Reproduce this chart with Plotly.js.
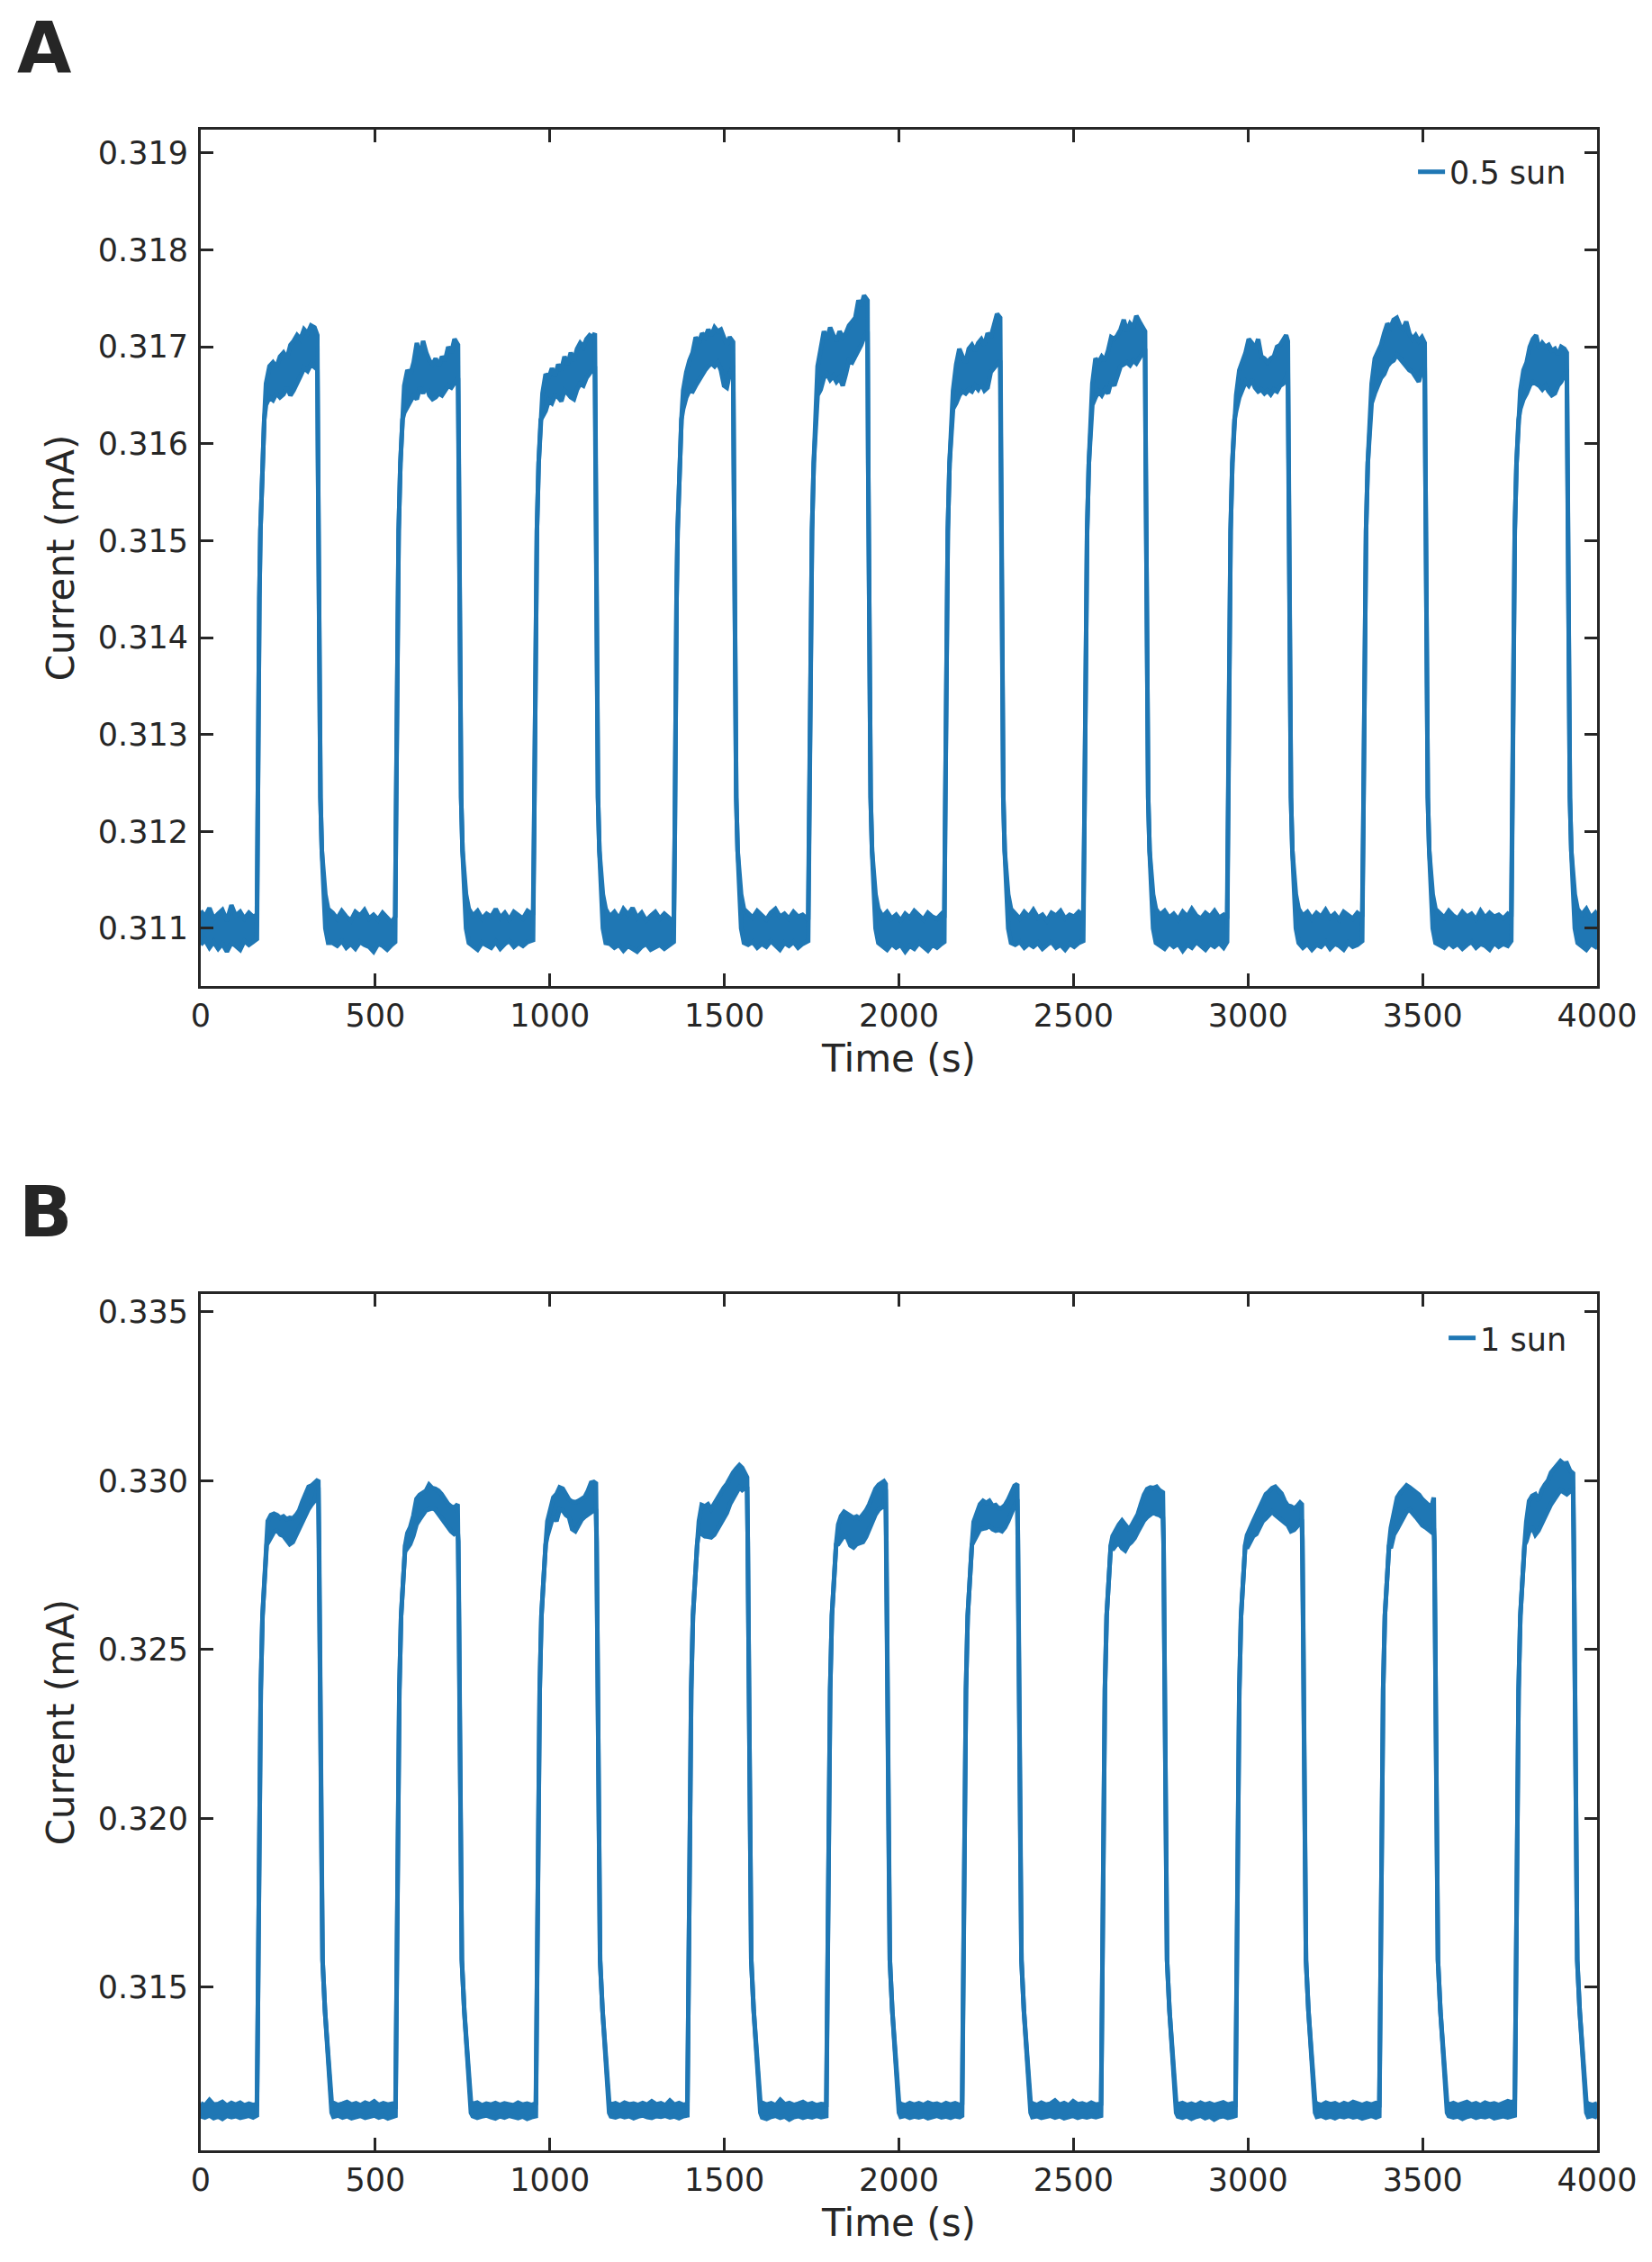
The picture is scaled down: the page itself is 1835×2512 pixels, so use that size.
<!DOCTYPE html>
<html>
<head>
<meta charset="utf-8">
<script src="https://cdn.plot.ly/plotly-3.0.1.min.js"></script>
<style>html,body{margin:0;padding:0;background:#fff}</style>
</head>
<body>
<div id="fig" style="width:1835px;height:2512px"></div>
<script>
// Photocurrent under chopped light. The noisy trace is kept as its upper and
// lower edge and the band between them is filled.

// ---------- panel A : 0.5 sun ----------
const timeA = [
  0, 12, 25, 37, 50, 62, 75, 88, 100, 113, 125, 138, 150, 161,
  163, 165, 168, 171, 176, 182,
  187, 197, 207, 217, 227, 237, 247, 257, 266, 276, 286, 296, 306, 316, 326, 334,
  336, 338, 340, 343, 347, 351, 357, 365,
  378, 391, 404, 417, 430, 443, 456, 469, 482, 495, 508, 521, 534, 547, 557,
  559, 561, 564, 567, 572, 578,
  583, 592, 601, 610, 619, 628, 637, 646, 655, 664, 673, 682, 691, 700, 709, 718, 727, 737,
  739, 741, 743, 746, 750, 754, 760, 768,
  780, 793, 806, 819, 832, 845, 858, 871, 884, 897, 910, 923, 936, 952,
  955, 957, 960, 963, 968, 974,
  979, 988, 997, 1006, 1015, 1024, 1033, 1042, 1051, 1060, 1069, 1078, 1087, 1096, 1105, 1114, 1122, 1129,
  1131, 1133, 1135, 1138, 1142, 1146, 1152, 1160,
  1172, 1185, 1198, 1211, 1224, 1237, 1250, 1263, 1276, 1289, 1302, 1315, 1328, 1341, 1355,
  1358, 1360, 1363, 1366, 1371, 1377,
  1382, 1391, 1400, 1409, 1418, 1427, 1436, 1445, 1454, 1463, 1472, 1481, 1490, 1499, 1507, 1515, 1525,
  1527, 1529, 1531, 1534, 1538, 1542, 1548, 1556,
  1568, 1581, 1594, 1607, 1620, 1633, 1646, 1659, 1672, 1685, 1698, 1711, 1724, 1740,
  1743, 1745, 1748, 1751, 1756, 1762,
  1767, 1776, 1785, 1794, 1803, 1812, 1821, 1830, 1839, 1848, 1857, 1866, 1875, 1884, 1892, 1900, 1910,
  1912, 1914, 1916, 1919, 1923, 1927, 1933, 1941,
  1953, 1966, 1979, 1992, 2005, 2018, 2031, 2044, 2057, 2070, 2083, 2096, 2109, 2122, 2130,
  2132, 2134, 2137, 2140, 2145, 2151,
  2155, 2164, 2173, 2182, 2191, 2200, 2209, 2218, 2227, 2236, 2245, 2254, 2263, 2272, 2281, 2290,
  2292, 2294, 2296, 2299, 2303, 2307, 2313, 2321,
  2333, 2346, 2359, 2372, 2385, 2398, 2411, 2424, 2437, 2450, 2463, 2476, 2489, 2502, 2515, 2528,
  2531, 2533, 2536, 2539, 2544, 2550,
  2554, 2563, 2572, 2581, 2590, 2599, 2608, 2617, 2626, 2635, 2644, 2653, 2662, 2671, 2680, 2689, 2698, 2705,
  2707, 2709, 2711, 2714, 2718, 2722, 2728, 2736,
  2748, 2761, 2774, 2787, 2800, 2813, 2826, 2839, 2852, 2865, 2878, 2891, 2904, 2917, 2930, 2940,
  2942, 2944, 2947, 2950, 2955, 2961,
  2966, 2975, 2984, 2993, 3002, 3011, 3020, 3029, 3038, 3047, 3056, 3065, 3074, 3083, 3092, 3101, 3109, 3114,
  3116, 3118, 3120, 3123, 3127, 3131, 3137, 3145,
  3157, 3170, 3183, 3196, 3209, 3222, 3235, 3248, 3261, 3274, 3287, 3300, 3313, 3327,
  3330, 3332, 3335, 3338, 3343, 3349,
  3354, 3363, 3372, 3381, 3390, 3399, 3408, 3417, 3426, 3435, 3444, 3453, 3462, 3471, 3480, 3489, 3498, 3506,
  3508, 3510, 3512, 3515, 3519, 3523, 3529, 3537,
  3549, 3562, 3575, 3588, 3601, 3614, 3627, 3640, 3653, 3666, 3679, 3692, 3705, 3718, 3731, 3744, 3754,
  3756, 3758, 3761, 3764, 3769, 3775,
  3780, 3789, 3798, 3807, 3816, 3825, 3834, 3843, 3852, 3861, 3870, 3879, 3888, 3897, 3906, 3913,
  3915, 3917, 3919, 3922, 3926, 3930, 3936, 3944,
  3956, 3969, 3982, 3995, 4000
];
const upperA = [
  0.31118, 0.31112, 0.31121, 0.31110, 0.31115, 0.31119, 0.31108, 0.31124, 0.31113, 0.31117, 0.31110, 0.31116, 0.31112, 0.31114,
  0.31200, 0.31330, 0.31440, 0.31510, 0.31580, 0.31625,
  0.31662, 0.31680, 0.31684, 0.31679, 0.31690, 0.31694, 0.31688, 0.31702, 0.31706, 0.31712, 0.31708, 0.31718, 0.31714, 0.31722, 0.31720, 0.31712,
  0.31580, 0.31410, 0.31320, 0.31235, 0.31180, 0.31155, 0.31135, 0.31120,
  0.31116, 0.31110, 0.31118, 0.31112, 0.31108, 0.31117, 0.31113, 0.31119, 0.31110, 0.31114, 0.31109, 0.31116, 0.31111, 0.31106, 0.31112,
  0.31200, 0.31330, 0.31440, 0.31510, 0.31580, 0.31625,
  0.31660, 0.31676, 0.31672, 0.31684, 0.31704, 0.31690, 0.31706, 0.31694, 0.31686, 0.31682, 0.31688, 0.31680, 0.31690, 0.31686, 0.31700, 0.31694, 0.31708, 0.31702,
  0.31580, 0.31410, 0.31320, 0.31235, 0.31180, 0.31155, 0.31135, 0.31120,
  0.31113, 0.31118, 0.31110, 0.31115, 0.31112, 0.31120, 0.31111, 0.31116, 0.31109, 0.31117, 0.31113, 0.31110, 0.31118, 0.31114,
  0.31200, 0.31330, 0.31440, 0.31510, 0.31580, 0.31625,
  0.31652, 0.31672, 0.31668, 0.31678, 0.31670, 0.31682, 0.31676, 0.31690, 0.31682, 0.31694, 0.31686, 0.31698, 0.31704, 0.31700, 0.31708, 0.31712, 0.31710, 0.31714,
  0.31580, 0.31410, 0.31320, 0.31235, 0.31180, 0.31155, 0.31135, 0.31120,
  0.31112, 0.31117, 0.31110, 0.31120, 0.31114, 0.31121, 0.31111, 0.31116, 0.31108, 0.31113, 0.31117, 0.31110, 0.31115, 0.31111, 0.31106,
  0.31200, 0.31330, 0.31440, 0.31510, 0.31580, 0.31625,
  0.31655, 0.31674, 0.31686, 0.31694, 0.31710, 0.31704, 0.31714, 0.31710, 0.31718, 0.31712, 0.31720, 0.31716, 0.31718, 0.31708, 0.31702, 0.31710, 0.31705,
  0.31580, 0.31410, 0.31320, 0.31235, 0.31180, 0.31155, 0.31135, 0.31120,
  0.31116, 0.31111, 0.31118, 0.31113, 0.31109, 0.31116, 0.31120, 0.31112, 0.31115, 0.31110, 0.31117, 0.31112, 0.31114, 0.31109,
  0.31200, 0.31330, 0.31440, 0.31510, 0.31580, 0.31625,
  0.31680, 0.31698, 0.31716, 0.31708, 0.31720, 0.31712, 0.31706, 0.31716, 0.31710, 0.31714, 0.31722, 0.31726, 0.31730, 0.31748, 0.31742, 0.31753, 0.31748,
  0.31580, 0.31410, 0.31320, 0.31235, 0.31180, 0.31155, 0.31135, 0.31120,
  0.31112, 0.31117, 0.31110, 0.31114, 0.31108, 0.31115, 0.31111, 0.31118, 0.31113, 0.31109, 0.31116, 0.31112, 0.31110, 0.31115, 0.31111,
  0.31200, 0.31330, 0.31440, 0.31510, 0.31580, 0.31625,
  0.31655, 0.31682, 0.31698, 0.31690, 0.31684, 0.31698, 0.31702, 0.31696, 0.31704, 0.31708, 0.31702, 0.31714, 0.31710, 0.31722, 0.31734, 0.31730,
  0.31580, 0.31410, 0.31320, 0.31235, 0.31180, 0.31155, 0.31135, 0.31120,
  0.31115, 0.31110, 0.31117, 0.31112, 0.31119, 0.31111, 0.31114, 0.31108, 0.31116, 0.31113, 0.31118, 0.31110, 0.31114, 0.31112, 0.31117, 0.31113,
  0.31200, 0.31330, 0.31440, 0.31510, 0.31580, 0.31625,
  0.31662, 0.31688, 0.31684, 0.31690, 0.31686, 0.31696, 0.31710, 0.31708, 0.31712, 0.31718, 0.31728, 0.31716, 0.31724, 0.31720, 0.31732, 0.31726, 0.31720, 0.31716,
  0.31580, 0.31410, 0.31320, 0.31235, 0.31180, 0.31155, 0.31135, 0.31120,
  0.31114, 0.31118, 0.31111, 0.31115, 0.31109, 0.31117, 0.31112, 0.31120, 0.31113, 0.31110, 0.31116, 0.31112, 0.31118, 0.31111, 0.31114, 0.31110,
  0.31200, 0.31330, 0.31440, 0.31510, 0.31580, 0.31625,
  0.31650, 0.31676, 0.31686, 0.31694, 0.31708, 0.31704, 0.31698, 0.31708, 0.31690, 0.31688, 0.31684, 0.31688, 0.31690, 0.31700, 0.31702, 0.31708, 0.31712, 0.31706,
  0.31580, 0.31410, 0.31320, 0.31235, 0.31180, 0.31155, 0.31135, 0.31120,
  0.31113, 0.31117, 0.31110, 0.31116, 0.31112, 0.31119, 0.31111, 0.31115, 0.31109, 0.31117, 0.31113, 0.31110, 0.31116, 0.31112,
  0.31200, 0.31330, 0.31440, 0.31510, 0.31580, 0.31625,
  0.31662, 0.31688, 0.31696, 0.31702, 0.31714, 0.31724, 0.31720, 0.31728, 0.31730, 0.31722, 0.31718, 0.31726, 0.31714, 0.31708, 0.31712, 0.31706, 0.31710, 0.31704,
  0.31580, 0.31410, 0.31320, 0.31235, 0.31180, 0.31155, 0.31135, 0.31120,
  0.31116, 0.31111, 0.31118, 0.31113, 0.31110, 0.31117, 0.31112, 0.31115, 0.31109, 0.31118, 0.31111, 0.31116, 0.31112, 0.31114, 0.31110, 0.31115, 0.31112,
  0.31200, 0.31330, 0.31440, 0.31510, 0.31580, 0.31625,
  0.31655, 0.31676, 0.31684, 0.31700, 0.31708, 0.31712, 0.31698, 0.31704, 0.31700, 0.31702, 0.31696, 0.31698, 0.31692, 0.31700, 0.31698, 0.31694,
  0.31580, 0.31410, 0.31320, 0.31235, 0.31180, 0.31155, 0.31135, 0.31120,
  0.31114, 0.31120, 0.31111, 0.31116, 0.31113
];
const lowerA = [
  0.31083, 0.31088, 0.31080, 0.31086, 0.31079, 0.31084, 0.31076, 0.31085, 0.31082, 0.31078, 0.31087, 0.31083, 0.31086, 0.31089,
  0.31200, 0.31330, 0.31440, 0.31510, 0.31580, 0.31625,
  0.31640, 0.31648, 0.31645, 0.31652, 0.31648, 0.31651, 0.31658, 0.31650, 0.31655, 0.31664, 0.31670, 0.31678, 0.31675, 0.31682, 0.31679, 0.31685,
  0.31580, 0.31410, 0.31320, 0.31235, 0.31180, 0.31135, 0.31100, 0.31085,
  0.31085, 0.31082, 0.31087, 0.31080, 0.31084, 0.31079, 0.31086, 0.31083, 0.31081, 0.31076, 0.31084, 0.31082, 0.31078, 0.31083, 0.31086,
  0.31200, 0.31330, 0.31440, 0.31510, 0.31580, 0.31625,
  0.31632, 0.31638, 0.31644, 0.31650, 0.31646, 0.31658, 0.31652, 0.31660, 0.31650, 0.31646, 0.31648, 0.31652, 0.31650, 0.31656, 0.31660, 0.31658, 0.31662, 0.31668,
  0.31580, 0.31410, 0.31320, 0.31235, 0.31180, 0.31135, 0.31100, 0.31085,
  0.31082, 0.31078, 0.31085, 0.31083, 0.31080, 0.31086, 0.31079, 0.31084, 0.31087, 0.31081, 0.31085, 0.31082, 0.31086, 0.31088,
  0.31200, 0.31330, 0.31440, 0.31510, 0.31580, 0.31625,
  0.31628, 0.31634, 0.31645, 0.31642, 0.31650, 0.31648, 0.31644, 0.31655, 0.31652, 0.31648, 0.31646, 0.31656, 0.31662, 0.31660, 0.31668, 0.31672, 0.31676, 0.31680,
  0.31580, 0.31410, 0.31320, 0.31235, 0.31180, 0.31135, 0.31100, 0.31085,
  0.31084, 0.31080, 0.31083, 0.31077, 0.31082, 0.31079, 0.31076, 0.31081, 0.31084, 0.31078, 0.31080, 0.31083, 0.31079, 0.31082, 0.31086,
  0.31200, 0.31330, 0.31440, 0.31510, 0.31580, 0.31625,
  0.31636, 0.31648, 0.31655, 0.31654, 0.31660, 0.31666, 0.31672, 0.31676, 0.31680, 0.31683, 0.31680, 0.31684, 0.31676, 0.31660, 0.31658, 0.31672, 0.31680,
  0.31580, 0.31410, 0.31320, 0.31235, 0.31180, 0.31135, 0.31100, 0.31085,
  0.31083, 0.31086, 0.31080, 0.31084, 0.31081, 0.31087, 0.31083, 0.31078, 0.31085, 0.31082, 0.31086, 0.31080, 0.31084, 0.31087,
  0.31200, 0.31330, 0.31440, 0.31510, 0.31580, 0.31625,
  0.31650, 0.31656, 0.31668, 0.31672, 0.31666, 0.31670, 0.31664, 0.31668, 0.31660, 0.31672, 0.31686, 0.31684, 0.31690, 0.31698, 0.31702, 0.31710, 0.31716,
  0.31580, 0.31410, 0.31320, 0.31235, 0.31180, 0.31135, 0.31100, 0.31085,
  0.31081, 0.31078, 0.31084, 0.31080, 0.31083, 0.31076, 0.31082, 0.31079, 0.31085, 0.31081, 0.31077, 0.31083, 0.31080, 0.31084, 0.31086,
  0.31200, 0.31330, 0.31440, 0.31510, 0.31580, 0.31625,
  0.31636, 0.31642, 0.31650, 0.31654, 0.31652, 0.31656, 0.31654, 0.31660, 0.31656, 0.31662, 0.31655, 0.31658, 0.31674, 0.31678, 0.31682, 0.31686,
  0.31580, 0.31410, 0.31320, 0.31235, 0.31180, 0.31135, 0.31100, 0.31085,
  0.31083, 0.31086, 0.31080, 0.31084, 0.31081, 0.31085, 0.31079, 0.31083, 0.31086, 0.31080, 0.31083, 0.31078, 0.31084, 0.31081, 0.31085, 0.31087,
  0.31200, 0.31330, 0.31440, 0.31510, 0.31580, 0.31625,
  0.31640, 0.31648, 0.31654, 0.31650, 0.31656, 0.31652, 0.31664, 0.31660, 0.31670, 0.31680, 0.31682, 0.31684, 0.31681, 0.31686, 0.31683, 0.31688, 0.31694, 0.31698,
  0.31580, 0.31410, 0.31320, 0.31235, 0.31180, 0.31135, 0.31100, 0.31085,
  0.31082, 0.31079, 0.31085, 0.31081, 0.31084, 0.31077, 0.31083, 0.31080, 0.31086, 0.31082, 0.31078, 0.31084, 0.31081, 0.31085, 0.31080, 0.31086,
  0.31200, 0.31330, 0.31440, 0.31510, 0.31580, 0.31625,
  0.31634, 0.31648, 0.31656, 0.31664, 0.31660, 0.31666, 0.31658, 0.31654, 0.31656, 0.31652, 0.31655, 0.31651, 0.31656, 0.31654, 0.31660, 0.31662, 0.31668, 0.31674,
  0.31580, 0.31410, 0.31320, 0.31235, 0.31180, 0.31135, 0.31100, 0.31085,
  0.31080, 0.31084, 0.31078, 0.31083, 0.31081, 0.31086, 0.31079, 0.31084, 0.31082, 0.31078, 0.31085, 0.31081, 0.31083, 0.31087,
  0.31200, 0.31330, 0.31440, 0.31510, 0.31580, 0.31625,
  0.31642, 0.31652, 0.31660, 0.31668, 0.31672, 0.31680, 0.31684, 0.31686, 0.31692, 0.31688, 0.31684, 0.31680, 0.31676, 0.31674, 0.31668, 0.31664, 0.31676, 0.31682,
  0.31580, 0.31410, 0.31320, 0.31235, 0.31180, 0.31135, 0.31100, 0.31085,
  0.31083, 0.31080, 0.31085, 0.31081, 0.31084, 0.31079, 0.31083, 0.31086, 0.31080, 0.31084, 0.31082, 0.31078, 0.31085, 0.31081, 0.31084, 0.31082, 0.31087,
  0.31200, 0.31330, 0.31440, 0.31510, 0.31580, 0.31625,
  0.31636, 0.31646, 0.31652, 0.31660, 0.31664, 0.31662, 0.31660, 0.31656, 0.31660, 0.31654, 0.31650, 0.31652, 0.31660, 0.31664, 0.31672, 0.31676,
  0.31580, 0.31410, 0.31320, 0.31235, 0.31180, 0.31135, 0.31100, 0.31085,
  0.31082, 0.31078, 0.31084, 0.31081, 0.31085
];

// ---------- panel B : 1 sun ----------
const timeB = [
  0, 12, 25, 37, 50, 62, 75, 88, 100, 113, 125, 138, 150, 161,
  163, 165, 168, 172, 177, 183, 189,
  192, 201, 210, 219, 228, 237, 246, 255, 264, 273, 282, 291, 300, 309, 318, 326, 333, 337,
  339, 341, 343, 346, 349, 356, 363, 368, 372, 375,
  380, 393, 406, 419, 432, 445, 458, 471, 484, 497, 510, 523, 536, 549, 558,
  560, 562, 565, 569, 574, 580, 586,
  592, 600, 609, 618, 627, 636, 645, 654, 663, 672, 681, 690, 699, 708, 717, 726, 736,
  738, 740, 742, 745, 748, 755, 762, 767, 771, 774,
  779, 792, 805, 818, 831, 844, 857, 870, 883, 896, 909, 922, 935, 948, 960,
  962, 964, 967, 971, 976, 982, 988,
  993, 1001, 1010, 1019, 1028, 1037, 1046, 1055, 1064, 1073, 1082, 1091, 1100, 1109, 1118, 1126, 1132,
  1134, 1136, 1138, 1141, 1144, 1151, 1158, 1163, 1167, 1170,
  1175, 1188, 1201, 1214, 1227, 1240, 1253, 1266, 1279, 1292, 1305, 1318, 1331, 1344, 1357, 1370, 1383, 1394,
  1396, 1398, 1401, 1405, 1410, 1416, 1422,
  1427, 1435, 1444, 1453, 1462, 1471, 1480, 1489, 1498, 1507, 1516, 1525, 1534, 1543, 1551, 1559, 1565,
  1567, 1569, 1571, 1574, 1577, 1584, 1591, 1596, 1600, 1603,
  1608, 1621, 1634, 1647, 1660, 1673, 1686, 1699, 1712, 1725, 1738, 1751, 1764, 1777, 1792,
  1794, 1796, 1799, 1803, 1808, 1814, 1820,
  1826, 1834, 1843, 1852, 1861, 1870, 1879, 1888, 1897, 1906, 1915, 1924, 1933, 1942, 1950, 1957, 1962,
  1964, 1966, 1968, 1971, 1974, 1981, 1988, 1993, 1997, 2000,
  2005, 2018, 2031, 2044, 2057, 2070, 2083, 2096, 2109, 2122, 2135, 2148, 2161, 2174, 2181,
  2183, 2185, 2188, 2192, 2197, 2203, 2209,
  2214, 2223, 2232, 2241, 2250, 2259, 2268, 2277, 2286, 2295, 2304, 2313, 2322, 2331, 2339,
  2341, 2343, 2345, 2348, 2351, 2358, 2365, 2370, 2374, 2377,
  2382, 2395, 2408, 2421, 2434, 2447, 2460, 2473, 2486, 2499, 2512, 2525, 2538, 2551, 2564, 2579,
  2581, 2583, 2586, 2590, 2595, 2601, 2607,
  2612, 2621, 2630, 2639, 2648, 2657, 2666, 2675, 2684, 2693, 2702, 2711, 2720, 2729, 2738, 2746, 2756,
  2758, 2760, 2762, 2765, 2768, 2775, 2782, 2787, 2791, 2794,
  2799, 2812, 2825, 2838, 2851, 2864, 2877, 2890, 2903, 2916, 2929, 2942, 2955, 2964,
  2966, 2968, 2971, 2975, 2980, 2986, 2992,
  2997, 3006, 3015, 3024, 3033, 3042, 3051, 3060, 3069, 3078, 3087, 3096, 3105, 3114, 3123, 3132, 3141, 3149, 3154,
  3156, 3158, 3160, 3163, 3166, 3173, 3180, 3185, 3189, 3192,
  3197, 3210, 3223, 3236, 3249, 3262, 3275, 3288, 3301, 3314, 3327, 3340, 3353, 3366, 3376,
  3378, 3380, 3383, 3387, 3392, 3398, 3404,
  3409, 3418, 3427, 3436, 3445, 3454, 3463, 3472, 3481, 3490, 3499, 3508, 3517, 3525, 3532,
  3534, 3536, 3538, 3541, 3544, 3551, 3558, 3563, 3567, 3570,
  3575, 3588, 3601, 3614, 3627, 3640, 3653, 3666, 3679, 3692, 3705, 3718, 3731, 3744, 3757, 3764,
  3766, 3768, 3771, 3775, 3780, 3786, 3792,
  3797, 3805, 3814, 3823, 3832, 3841, 3850, 3859, 3868, 3877, 3886, 3895, 3904, 3913, 3922, 3931,
  3933, 3935, 3937, 3940, 3943, 3950, 3957, 3962, 3966, 3969,
  3974, 3987, 4000
];
const upperB = [
  0.31156, 0.31150, 0.31166, 0.31152, 0.31154, 0.31160, 0.31149, 0.31157, 0.31152, 0.31158, 0.31150, 0.31155, 0.31151, 0.31154,
  0.3135, 0.3165, 0.3205, 0.3238, 0.3260, 0.3273, 0.3281,
  0.32880, 0.32898, 0.32902, 0.32898, 0.32890, 0.32894, 0.32886, 0.32890, 0.32888, 0.32898, 0.32912, 0.32938, 0.32960, 0.32982, 0.32986, 0.32996, 0.33000, 0.32998,
  0.3282, 0.3255, 0.3228, 0.3190, 0.3158, 0.3143, 0.3132, 0.3125, 0.31190, 0.31160,
  0.31157, 0.31151, 0.31155, 0.31160, 0.31152, 0.31156, 0.31150, 0.31158, 0.31153, 0.31162, 0.31151, 0.31156, 0.31152, 0.31155, 0.31150,
  0.3135, 0.3165, 0.3205, 0.3238, 0.3260, 0.3273, 0.3281,
  0.32845, 0.32862, 0.32896, 0.32946, 0.32958, 0.32964, 0.32970, 0.32988, 0.32978, 0.32976, 0.32970, 0.32960, 0.32944, 0.32932, 0.32924, 0.32920, 0.32930,
  0.3282, 0.3255, 0.3228, 0.3190, 0.3158, 0.3143, 0.3132, 0.3125, 0.31190, 0.31160,
  0.31154, 0.31158, 0.31150, 0.31155, 0.31152, 0.31157, 0.31151, 0.31156, 0.31153, 0.31150, 0.31158, 0.31152, 0.31155, 0.31151, 0.31156,
  0.3135, 0.3165, 0.3205, 0.3238, 0.3260, 0.3273, 0.3281,
  0.32880, 0.32918, 0.32950, 0.32960, 0.32980, 0.32976, 0.32960, 0.32944, 0.32938, 0.32936, 0.32940, 0.32946, 0.32952, 0.32970, 0.32994, 0.32996, 0.32992,
  0.3282, 0.3255, 0.3228, 0.3190, 0.3158, 0.3143, 0.3132, 0.3125, 0.31190, 0.31160,
  0.31152, 0.31156, 0.31150, 0.31158, 0.31153, 0.31155, 0.31151, 0.31157, 0.31152, 0.31162, 0.31153, 0.31156, 0.31150, 0.31164, 0.31152, 0.31157, 0.31151, 0.31155,
  0.3135, 0.3165, 0.3205, 0.3238, 0.3260, 0.3273, 0.3281,
  0.32880, 0.32928, 0.32924, 0.32930, 0.32916, 0.32932, 0.32950, 0.32964, 0.32978, 0.32990, 0.33010, 0.33024, 0.33036, 0.33046, 0.33038, 0.33020, 0.33010,
  0.3282, 0.3255, 0.3228, 0.3190, 0.3158, 0.3143, 0.3132, 0.3125, 0.31190, 0.31160,
  0.31158, 0.31152, 0.31156, 0.31150, 0.31166, 0.31153, 0.31157, 0.31151, 0.31155, 0.31160, 0.31152, 0.31156, 0.31150, 0.31154, 0.31152,
  0.3135, 0.3165, 0.3205, 0.3238, 0.3260, 0.3273, 0.3281,
  0.32870, 0.32895, 0.32908, 0.32900, 0.32896, 0.32890, 0.32894, 0.32888, 0.32900, 0.32912, 0.32930, 0.32958, 0.32976, 0.32988, 0.32994, 0.32998, 0.32990,
  0.3282, 0.3255, 0.3228, 0.3190, 0.3158, 0.3143, 0.3132, 0.3125, 0.31190, 0.31160,
  0.31154, 0.31150, 0.31157, 0.31152, 0.31156, 0.31151, 0.31158, 0.31153, 0.31155, 0.31150, 0.31157, 0.31152, 0.31156, 0.31151, 0.31155,
  0.3135, 0.3165, 0.3205, 0.3238, 0.3260, 0.3273, 0.3281,
  0.32878, 0.32905, 0.32930, 0.32940, 0.32934, 0.32940, 0.32925, 0.32928, 0.32917, 0.32920, 0.32928, 0.32944, 0.32962, 0.32985, 0.32990,
  0.3282, 0.3255, 0.3228, 0.3190, 0.3158, 0.3143, 0.3132, 0.3125, 0.31190, 0.31160,
  0.31156, 0.31151, 0.31158, 0.31152, 0.31155, 0.31164, 0.31152, 0.31157, 0.31150, 0.31162, 0.31153, 0.31156, 0.31151, 0.31158, 0.31152, 0.31155,
  0.3135, 0.3165, 0.3205, 0.3238, 0.3260, 0.3273, 0.3281,
  0.32836, 0.32855, 0.32870, 0.32882, 0.32870, 0.32858, 0.32866, 0.32880, 0.32900, 0.32930, 0.32958, 0.32975, 0.32980, 0.32978, 0.32982, 0.32972, 0.32965,
  0.3282, 0.3255, 0.3228, 0.3190, 0.3158, 0.3143, 0.3132, 0.3125, 0.31190, 0.31160,
  0.31153, 0.31157, 0.31151, 0.31155, 0.31150, 0.31158, 0.31152, 0.31156, 0.31151, 0.31154, 0.31159, 0.31152, 0.31156, 0.31153,
  0.3135, 0.3165, 0.3205, 0.3238, 0.3260, 0.3273, 0.3281,
  0.32838, 0.32862, 0.32880, 0.32900, 0.32922, 0.32946, 0.32960, 0.32968, 0.32978, 0.32982, 0.32974, 0.32962, 0.32940, 0.32926, 0.32924, 0.32918, 0.32925, 0.32935, 0.32930,
  0.3282, 0.3255, 0.3228, 0.3190, 0.3158, 0.3143, 0.3132, 0.3125, 0.31190, 0.31160,
  0.31155, 0.31151, 0.31158, 0.31153, 0.31156, 0.31150, 0.31157, 0.31152, 0.31160, 0.31154, 0.31151, 0.31156, 0.31152, 0.31157, 0.31153,
  0.3135, 0.3165, 0.3205, 0.3238, 0.3260, 0.3273, 0.3281,
  0.32860, 0.32905, 0.32950, 0.32965, 0.32978, 0.32986, 0.32980, 0.32972, 0.32964, 0.32958, 0.32945, 0.32936, 0.32926, 0.32920, 0.32950,
  0.3282, 0.3255, 0.3228, 0.3190, 0.3158, 0.3143, 0.3132, 0.3125, 0.31190, 0.31160,
  0.31152, 0.31157, 0.31151, 0.31155, 0.31160, 0.31152, 0.31156, 0.31150, 0.31158, 0.31153, 0.31156, 0.31151, 0.31155, 0.31162, 0.31158, 0.31166,
  0.3135, 0.3165, 0.3205, 0.3238, 0.3260, 0.3273, 0.3281,
  0.32878, 0.32940, 0.32955, 0.32960, 0.32942, 0.32972, 0.32988, 0.33000, 0.33024, 0.33035, 0.33042, 0.33058, 0.33050, 0.33052, 0.33030, 0.33022,
  0.3282, 0.3255, 0.3228, 0.3190, 0.3158, 0.3143, 0.3132, 0.3125, 0.31190, 0.31160,
  0.31155, 0.31151, 0.31156
];
const lowerB = [
  0.31118, 0.31114, 0.31120, 0.31112, 0.31117, 0.31110, 0.31119, 0.31115, 0.31118, 0.31113, 0.31116, 0.31119, 0.31114, 0.31120,
  0.3135, 0.3165, 0.3205, 0.3238, 0.3260, 0.3273, 0.3281,
  0.32815, 0.32830, 0.32848, 0.32852, 0.32840, 0.32836, 0.32824, 0.32812, 0.32818, 0.32838, 0.32856, 0.32880, 0.32902, 0.32916, 0.32930, 0.32940, 0.32972, 0.32980,
  0.3282, 0.3255, 0.3228, 0.3190, 0.3158, 0.3143, 0.3132, 0.3125, 0.31190, 0.31128,
  0.31116, 0.31120, 0.31114, 0.31118, 0.31112, 0.31117, 0.31119, 0.31113, 0.31116, 0.31120, 0.31114, 0.31118, 0.31111, 0.31116, 0.31119,
  0.3135, 0.3165, 0.3205, 0.3238, 0.3260, 0.3273, 0.3281,
  0.32800, 0.32812, 0.32836, 0.32870, 0.32885, 0.32900, 0.32912, 0.32915, 0.32918, 0.32914, 0.32900, 0.32888, 0.32872, 0.32860, 0.32850, 0.32842, 0.32850,
  0.3282, 0.3255, 0.3228, 0.3190, 0.3158, 0.3143, 0.3132, 0.3125, 0.31190, 0.31128,
  0.31118, 0.31113, 0.31117, 0.31120, 0.31115, 0.31111, 0.31118, 0.31114, 0.31119, 0.31116, 0.31112, 0.31117, 0.31110, 0.31115, 0.31118,
  0.3135, 0.3165, 0.3205, 0.3238, 0.3260, 0.3273, 0.3281,
  0.32836, 0.32860, 0.32896, 0.32880, 0.32914, 0.32912, 0.32898, 0.32892, 0.32856, 0.32850, 0.32870, 0.32884, 0.32893, 0.32900, 0.32906, 0.32912, 0.32916,
  0.3282, 0.3255, 0.3228, 0.3190, 0.3158, 0.3143, 0.3132, 0.3125, 0.31190, 0.31128,
  0.31117, 0.31114, 0.31119, 0.31115, 0.31118, 0.31112, 0.31117, 0.31120, 0.31115, 0.31113, 0.31118, 0.31116, 0.31119, 0.31114, 0.31117, 0.31112, 0.31118, 0.31120,
  0.3135, 0.3165, 0.3205, 0.3238, 0.3260, 0.3273, 0.3281,
  0.32848, 0.32842, 0.32835, 0.32834, 0.32832, 0.32840, 0.32856, 0.32876, 0.32890, 0.32904, 0.32930, 0.32948, 0.32966, 0.32980, 0.32972, 0.32978, 0.32982,
  0.3282, 0.3255, 0.3228, 0.3190, 0.3158, 0.3143, 0.3132, 0.3125, 0.31190, 0.31128,
  0.31114, 0.31110, 0.31116, 0.31119, 0.31113, 0.31117, 0.31108, 0.31115, 0.31118, 0.31113, 0.31117, 0.31114, 0.31119, 0.31115, 0.31118,
  0.3135, 0.3165, 0.3205, 0.3238, 0.3260, 0.3273, 0.3281,
  0.32812, 0.32826, 0.32838, 0.32830, 0.32808, 0.32802, 0.32812, 0.32815, 0.32818, 0.32834, 0.32856, 0.32880, 0.32900, 0.32914, 0.32920, 0.32930, 0.32975,
  0.3282, 0.3255, 0.3228, 0.3190, 0.3158, 0.3143, 0.3132, 0.3125, 0.31190, 0.31128,
  0.31116, 0.31119, 0.31113, 0.31117, 0.31114, 0.31118, 0.31112, 0.31116, 0.31119, 0.31114, 0.31117, 0.31113, 0.31118, 0.31115, 0.31119,
  0.3135, 0.3165, 0.3205, 0.3238, 0.3260, 0.3273, 0.3281,
  0.32820, 0.32836, 0.32855, 0.32858, 0.32860, 0.32866, 0.32856, 0.32852, 0.32854, 0.32850, 0.32862, 0.32880, 0.32900, 0.32920, 0.32945,
  0.3282, 0.3255, 0.3228, 0.3190, 0.3158, 0.3143, 0.3132, 0.3125, 0.31190, 0.31128,
  0.31115, 0.31118, 0.31113, 0.31117, 0.31119, 0.31114, 0.31118, 0.31112, 0.31116, 0.31119, 0.31113, 0.31117, 0.31114, 0.31118, 0.31115, 0.31119,
  0.3135, 0.3165, 0.3205, 0.3238, 0.3260, 0.3273, 0.3281,
  0.32795, 0.32808, 0.32815, 0.32800, 0.32793, 0.32810, 0.32818, 0.32830, 0.32848, 0.32868, 0.32882, 0.32892, 0.32900, 0.32906, 0.32900, 0.32898, 0.32890,
  0.3282, 0.3255, 0.3228, 0.3190, 0.3158, 0.3143, 0.3132, 0.3125, 0.31190, 0.31128,
  0.31117, 0.31113, 0.31118, 0.31110, 0.31116, 0.31119, 0.31112, 0.31117, 0.31108, 0.31115, 0.31118, 0.31113, 0.31116, 0.31119,
  0.3135, 0.3165, 0.3205, 0.3238, 0.3260, 0.3273, 0.3281,
  0.32800, 0.32818, 0.32836, 0.32842, 0.32858, 0.32880, 0.32888, 0.32896, 0.32908, 0.32898, 0.32890, 0.32884, 0.32876, 0.32868, 0.32850, 0.32854, 0.32865, 0.32880, 0.32885,
  0.3282, 0.3255, 0.3228, 0.3190, 0.3158, 0.3143, 0.3132, 0.3125, 0.31190, 0.31128,
  0.31116, 0.31119, 0.31113, 0.31117, 0.31112, 0.31118, 0.31115, 0.31119, 0.31114, 0.31117, 0.31111, 0.31116, 0.31119, 0.31114, 0.31118,
  0.3135, 0.3165, 0.3205, 0.3238, 0.3260, 0.3273, 0.3281,
  0.32800, 0.32840, 0.32856, 0.32872, 0.32890, 0.32908, 0.32914, 0.32905, 0.32892, 0.32880, 0.32868, 0.32862, 0.32852, 0.32848, 0.32860,
  0.3282, 0.3255, 0.3228, 0.3190, 0.3158, 0.3143, 0.3132, 0.3125, 0.31190, 0.31128,
  0.31118, 0.31114, 0.31117, 0.31110, 0.31116, 0.31119, 0.31113, 0.31117, 0.31115, 0.31119, 0.31112, 0.31116, 0.31118, 0.31114, 0.31117, 0.31120,
  0.3135, 0.3165, 0.3205, 0.3238, 0.3260, 0.3273, 0.3281,
  0.32820, 0.32848, 0.32862, 0.32840, 0.32852, 0.32872, 0.32890, 0.32910, 0.32930, 0.32944, 0.32958, 0.32972, 0.32966, 0.32960, 0.32968, 0.32975,
  0.3282, 0.3255, 0.3228, 0.3190, 0.3158, 0.3143, 0.3132, 0.3125, 0.31190, 0.31128,
  0.31116, 0.31119, 0.31114
];

// ticks and axis limits
const timeTicks = [0, 500, 1000, 1500, 2000, 2500, 3000, 3500, 4000];
const currentTicksA = [0.311, 0.312, 0.313, 0.314, 0.315, 0.316, 0.317, 0.318, 0.319];
const currentTicksB = [0.315, 0.320, 0.325, 0.330, 0.335];
const rangeA = [0.310405, 0.319242];
const rangeB = [0.310169, 0.335525];

const blue = '#1f77b4';
const ink = '#262626';
const gd = document.getElementById('fig');

function axisStyle(extra) {
  return Object.assign({
    showline: true, linewidth: 3, linecolor: ink, mirror: 'allticks',
    ticks: 'inside', ticklen: 14, tickwidth: 3, tickcolor: ink,
    showgrid: false, zeroline: false,
    tickfont: {size: 35, color: ink}
  }, extra);
}

const xTitle = {text: 'Time (s)', font: {size: 42}, standoff: 14};
const yTitle = {text: 'Current (mA)', font: {size: 42}, standoff: 14};

const data = [
  { x: timeA, y: lowerA, type: 'scatter', mode: 'lines', name: '0.5 sun',
    line: {color: blue, width: 5}, xaxis: 'x', yaxis: 'y', legend: 'legend' },
  { x: timeA, y: upperA, type: 'scatter', mode: 'lines', fill: 'tonexty', fillcolor: blue,
    line: {color: blue, width: 5}, xaxis: 'x', yaxis: 'y', showlegend: false },
  { x: timeB, y: lowerB, type: 'scatter', mode: 'lines', name: '1 sun',
    line: {color: blue, width: 5}, xaxis: 'x2', yaxis: 'y2', legend: 'legend2' },
  { x: timeB, y: upperB, type: 'scatter', mode: 'lines', fill: 'tonexty', fillcolor: blue,
    line: {color: blue, width: 5}, xaxis: 'x2', yaxis: 'y2', showlegend: false }
];

const legendStyle = {
  font: {size: 35, color: ink}, bgcolor: 'rgba(0,0,0,0)', borderwidth: 0,
  xanchor: 'right', yanchor: 'middle', itemwidth: 30
};

const layout = {
  width: 1835, height: 2512,
  margin: {l: 0, r: 0, t: 0, b: 0},
  paper_bgcolor: '#fff', plot_bgcolor: '#fff',
  font: {family: 'DejaVu Sans', size: 35, color: ink},
  xaxis: axisStyle({domain: [0.1215, 0.9668], range: [0, 4000], anchor: 'y',
    tickvals: timeTicks, title: xTitle}),
  yaxis: axisStyle({domain: [0.5641, 0.9427], range: rangeA, anchor: 'x',
    tickvals: currentTicksA, tickformat: '.3f', ticklabelstandoff: 4, title: yTitle}),
  xaxis2: axisStyle({domain: [0.1215, 0.9668], range: [0, 4000], anchor: 'y2',
    tickvals: timeTicks, title: xTitle}),
  yaxis2: axisStyle({domain: [0.0494, 0.4279], range: rangeB, anchor: 'x2',
    tickvals: currentTicksB, tickformat: '.3f', ticklabelstandoff: 4, title: yTitle}),
  legend: Object.assign({x: 0.951, y: 0.924}, legendStyle),
  legend2: Object.assign({x: 0.951, y: 0.4084}, legendStyle),
  annotations: [
    {text: '<b>A</b>', xref: 'paper', yref: 'paper', x: 0.0095, y: 0.9975,
     xanchor: 'left', yanchor: 'top', showarrow: false, font: {size: 78, color: ink}},
    {text: '<b>B</b>', xref: 'paper', yref: 'paper', x: 0.0105, y: 0.483,
     xanchor: 'left', yanchor: 'top', showarrow: false, font: {size: 78, color: ink}}
  ],
  showlegend: true
};

Plotly.newPlot(gd, data, layout, {staticPlot: true});
</script>
</body>
</html>
